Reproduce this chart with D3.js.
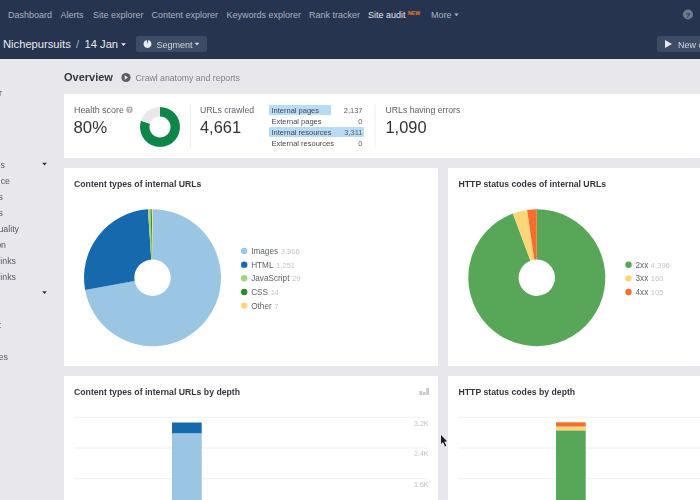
<!DOCTYPE html>
<html><head><meta charset="utf-8">
<script src="https://cdn.jsdelivr.net/npm/d3@7"></script>
<style>html,body{margin:0;padding:0;background:#e8e8ec;overflow:hidden}svg{display:block;font-family:"Liberation Sans",Arial,sans-serif;filter:blur(0.4px)}</style>
</head><body><svg id="c" width="700" height="500"></svg>
<script>
const navItems=["Dashboard","Alerts","Site explorer","Content explorer","Keywords explorer","Rank tracker","Site audit","More"];
const navX=[8,60.5,93,151.5,226.5,309,368,431];
const sideItems=["r","es","ce","s","s","uality","on","inks","inks",":","es"];
const sideY=[93,165,181,197,213,229,245,261,277,325,357];
const sideEnd=[2,5,10,3,3,19,6,16,16,1.5,8];
const crawlLabels=["Internal pages","External pages","Internal resources","External resources"];
const crawlValues=[2137,0,3311,0];
const typeNames=["Images","HTML","JavaScript","CSS","Other"];
const typeValues=[3366,1251,29,14,7];
const typeColors=["#9ac5e3","#1769ae","#a5d57a","#2b8a2b","#fdd679"];
const statusNames=["2xx","3xx","4xx"];
const statusValues=[4396,160,105];
const statusColors=["#58a758","#fdd679","#f86d2e"];
const healthValues=[80,20];
const depthTicks=[1600,2400,3200];
const depthCats=["0","1","2"];
const typeByDepth=[2784,280,3,2,1];
const statusByDepth=[2860,100,110];

const svg=d3.select("#c");
const txt=(x,y,s,size,fill,o={})=>svg.append("text").attr("x",x).attr("y",y).attr("font-size",size).attr("fill",fill)
  .attr("font-weight",o.w||400).attr("text-anchor",o.a||"start").text(s);
const rect=(x,y,w,h,f,r=0)=>svg.append("rect").attr("x",x).attr("y",y).attr("width",w).attr("height",h).attr("fill",f).attr("rx",r);
const tri=(x,y,s,f)=>svg.append("path").attr("d",`M${x-s},${y-s*0.55}L${x+s},${y-s*0.55}L${x},${y+s*0.6}Z`).attr("fill",f);

rect(0,0,700,59,"#26344f");
navItems.forEach((n,i)=>txt(navX[i],18,n,9,n==="Site audit"?"#e3e6ec":"#aab2c1"));
txt(408,15,"NEW",5.2,"#f07d1a",{w:700});
tri(456.5,14.7,2.4,"#aab2c1");
svg.append("circle").attr("cx",688).attr("cy",14.5).attr("r",5).attr("fill","#6f7a8d");
txt(688,17.5,"?",8,"#26344f",{a:"middle",w:700});
txt(3,48,"Nichepursuits",11.2,"#e6e9ef");
txt(76,48,"/",11.2,"#aab2c1");
txt(84.5,48,"14 Jan",11.2,"#e6e9ef");
tri(123.5,44.5,2.4,"#e6e9ef");
rect(136,36,71,16,"#3e4b65",2);
svg.append("path").attr("transform","translate(147.5,44)").attr("d",d3.arc().innerRadius(0).outerRadius(4).startAngle(0.2).endAngle(6.1)()).attr("fill","#e6e9ef");
txt(156.5,47.5,"Segment",9,"#d3d7df");
tri(197,44,2.4,"#d3d7df");
rect(657,36,50,16,"#3e4b65",2);
svg.append("path").attr("d","M665,40L665,48L672,44Z").attr("fill","#e6e9ef");
txt(678,47.5,"New crawl",9,"#d3d7df");

sideItems.forEach((s,i)=>txt(sideEnd[i],sideY[i]+3,s,8.8,"#55585f",{a:"end"}));
tri(44.5,164,2.4,"#33363c");
tri(44.5,292.5,2.4,"#33363c");

txt(64,81,"Overview",11,"#33363c",{w:700});
svg.append("circle").attr("cx",126).attr("cy",77.5).attr("r",4.6).attr("fill","#5a5d64");
svg.append("path").attr("d","M124.6,75.3L124.6,79.7L128,77.5Z").attr("fill","#e8e8ec");
txt(135.5,81,"Crawl anatomy and reports",8.7,"#7e8188");

rect(64,94,636,64,"#fff");
rect(64,168,374,198,"#fff");
rect(448,168,252,198,"#fff");
rect(64,376,374,124,"#fff");
rect(448,376,252,124,"#fff");

txt(74,113,"Health score",8.9,"#5d6066");
svg.append("circle").attr("cx",129.5).attr("cy",109.7).attr("r",3.2).attr("fill","#b0b2b6");
txt(129.5,111.6,"?",5,"#fff",{a:"middle",w:700});
txt(73.5,132.5,"80%",16.8,"#333");
const arc=d3.arc(), pie=d3.pie().sort(null);
svg.append("g").attr("transform","translate(160,127)").selectAll("path").data(pie(healthValues)).join("path")
  .attr("d",d=>arc({innerRadius:10.5,outerRadius:20,startAngle:d.startAngle,endAngle:d.endAngle}))
  .attr("fill",(d,i)=>["#0f8547","#e8e8ea"][i]);
rect(190,104,1,44,"#eeeeef");
txt(200,113,"URLs crawled",8.7,"#5d6066");
txt(200,132.5,"4,661",16.4,"#333");
const fmt=d3.format(",");
const crawlY=d3.scaleBand().domain(crawlLabels).range([104.5,148.5]);
const crawlW=[62,0,95,0];
crawlLabels.forEach((l,i)=>{
  const y=crawlY(l),h=crawlY.bandwidth();
  if(crawlW[i]) rect(269,y+0.5,crawlW[i],h-1,"#b8dcf5",1.5);
  txt(271.5,y+8.2,l,7.5,"#45484e");
  txt(362.5,y+8.2,fmt(crawlValues[i]),7.5,"#5d6066",{a:"end"});
});
rect(374.5,104,1,44,"#eeeeef");
txt(385.5,113,"URLs having errors",8.7,"#5d6066");
txt(385.5,132.5,"1,090",16.4,"#333");

function donut(cx,cy,vals,cols){
  svg.append("g").attr("transform",`translate(${cx},${cy})`).selectAll("path").data(pie(vals)).join("path")
   .attr("d",d3.arc().innerRadius(18.2).outerRadius(68.5)).attr("fill",(d,i)=>cols[i]);
}
function legend(x,y0,names,vals,cols){
  names.forEach((n,i)=>{
    const y=y0+i*13.65;
    svg.append("circle").attr("cx",x).attr("cy",y).attr("r",3.2).attr("fill",cols[i]);
    const t=txt(x+7,y+3,n,8.2,"#5d6066");
    const w=t.node().getComputedTextLength();
    txt(x+7+w+2.6,y+3,fmt(vals[i]),7.6,"#c2c3c6");
  });
}
txt(74,187,"Content types of internal URLs",8.7,"#33363c",{w:700});
donut(152.5,277.7,typeValues,typeColors);
legend(244.2,251,typeNames,typeValues,typeColors);
txt(458.5,187,"HTTP status codes of internal URLs",8.7,"#33363c",{w:700});
donut(536.8,277.7,statusValues,statusColors);
legend(628.5,264.7,statusNames,statusValues,statusColors);

txt(74,395,"Content types of internal URLs by depth",8.7,"#33363c",{w:700});
txt(458.5,395,"HTTP status codes by depth",8.7,"#33363c",{w:700});
function stacked(x0,x1,vals,cols,labels){
  const y=d3.scaleLinear().domain([0,3200]).range([540.3,417.3]);
  const x=d3.scaleBand().domain(depthCats).range([x0,x1]).paddingInner(0.1).paddingOuter(0);
  depthTicks.forEach(t=>{
    svg.append("line").attr("x1",labels?74:458).attr("x2",labels?427:700).attr("y1",y(t)).attr("y2",y(t)).attr("stroke","#f0f0f2");
    if(labels) txt(428.5,y(t)+8.3,d3.format(".1f")(t/1000)+"K",7,"#bdbec1",{a:"end"});
  });
  let acc=0;
  vals.forEach((v,i)=>{rect(x("1"),y(acc+v),x.bandwidth(),y(acc)-y(acc+v),cols[i]);acc+=v;});
}
stacked(139,234.7,typeByDepth,typeColors,true);
stacked(523,618.7,statusByDepth,statusColors,false);
[4,3,7].forEach((h,i)=>rect(419.5+i*3.4,395-h,2.6,h,"#c4c5c8"));
svg.append("path").attr("d","M441,435L441,444L443,442L445,446.5L446.3,445.7L444.4,441.7L447,441.2Z").attr("fill","#1b1b1d");
</script></body></html>
